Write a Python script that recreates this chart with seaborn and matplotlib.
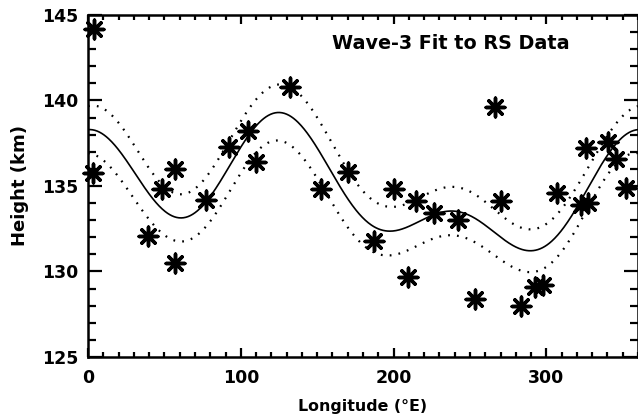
import numpy as np
import pandas as pd
import matplotlib
matplotlib.use("Agg")
import matplotlib.pyplot as plt
import seaborn as sns
from matplotlib.ticker import MultipleLocator

longitude = [4, 3, 39, 48.5, 56.8, 57.2, 77.4, 92.2, 104.6, 110, 132.2,
             152.2, 170, 187, 200, 209.2, 214.8, 226.6, 242, 253.3, 266.3,
             270.3, 283.3, 292.9, 297.5, 307, 323, 327, 326, 340.3, 345.7, 352]
height = [144.2, 135.75, 132.1, 134.8, 136.0, 130.5, 134.2, 137.3, 138.2, 136.4, 140.8,
          134.8, 135.8, 131.8, 134.8, 129.7, 134.1, 133.4, 133.0, 128.4, 139.6,
          134.1, 128.0, 129.1, 129.2, 134.6, 133.9, 134.0, 137.2, 137.6, 136.6, 134.9]

x_ticks = [0, 100, 200, 300]
y_ticks = [125, 130, 135, 140, 145]
title_text = "Wave-3 Fit to RS Data"

df = pd.DataFrame({"lon": longitude, "h": height})

# Wave-3 harmonic least-squares fit of the data (what the chart shows)
def design(lon):
    r = np.deg2rad(np.asarray(lon, dtype=float))
    cols = [np.ones_like(r)]
    for k in (1, 2, 3):
        cols += [np.cos(k * r), np.sin(k * r)]
    return np.column_stack(cols)

A = design(df["lon"])
coef, *_ = np.linalg.lstsq(A, df["h"].values, rcond=None)
resid = df["h"].values - A @ coef
dof = len(df) - A.shape[1]
sigma2 = resid @ resid / dof
cov = sigma2 * np.linalg.inv(A.T @ A)

grid = np.linspace(0, 360, 721)
G = design(grid)
fit = G @ coef
se = np.sqrt(np.einsum("ij,jk,ik->i", G, cov, G))
fit_df = pd.DataFrame({"lon": grid, "fit": fit, "up": fit + se, "lo": fit - se})

sns.set_theme(style="ticks")
plt.rcParams["font.family"] = ["DejaVu Sans"]
plt.rcParams.update({"text.color": "black", "axes.labelcolor": "black",
                     "xtick.color": "black", "ytick.color": "black",
                     "xtick.labelcolor": "black", "ytick.labelcolor": "black",
                     "axes.edgecolor": "black"})

fig = plt.figure(figsize=(6.38, 4.17), dpi=100)
ax = fig.add_axes([0.138, 0.144, 0.862, 0.820])

sns.lineplot(data=fit_df, x="lon", y="fit", color="black", lw=1.2, ax=ax)
sns.lineplot(data=fit_df, x="lon", y="up", color="black", lw=1.6, ax=ax,
             linestyle=(0, (0.8, 3.2)))
sns.lineplot(data=fit_df, x="lon", y="lo", color="black", lw=1.6, ax=ax,
             linestyle=(0, (0.8, 3.2)))
sns.scatterplot(data=df, x="lon", y="h", marker=(8, 2, 0), s=180,
                color="black", edgecolor="black", linewidth=2.5, ax=ax,
                zorder=5, clip_on=False)

ax.set_xlim(0, 360)
ax.set_ylim(125, 145)
ax.set_xticks(x_ticks)
ax.set_yticks(y_ticks)
ax.xaxis.set_minor_locator(MultipleLocator(10))
ax.yaxis.set_minor_locator(MultipleLocator(1))
ax.tick_params(axis="both", which="both", direction="in", top=True, right=True,
               color="black", width=1.6)
ax.tick_params(axis="x", which="major", length=6.5, pad=9, labelsize=12.5)
ax.tick_params(axis="x", which="minor", length=3.5)
ax.tick_params(axis="y", which="major", length=10, pad=7, labelsize=12.5)
ax.tick_params(axis="y", which="minor", length=5.5)
for lab in ax.get_xticklabels() + ax.get_yticklabels():
    lab.set_fontweight("bold")
    lab.set_color("black")
for sp in ax.spines.values():
    sp.set_linewidth(1.8)
    sp.set_color("black")

ax.set_xlabel("Longitude (°E)", fontsize=11.4, fontweight="bold", labelpad=8,
              color="black")
ax.set_ylabel("Height (km)", fontsize=13, fontweight="bold", labelpad=9,
              color="black")
ax.text(0.66, 0.918, title_text, transform=ax.transAxes, ha="center", va="center",
        fontsize=13.8, fontweight="bold", color="black")

fig.savefig("out.png", dpi=100)
